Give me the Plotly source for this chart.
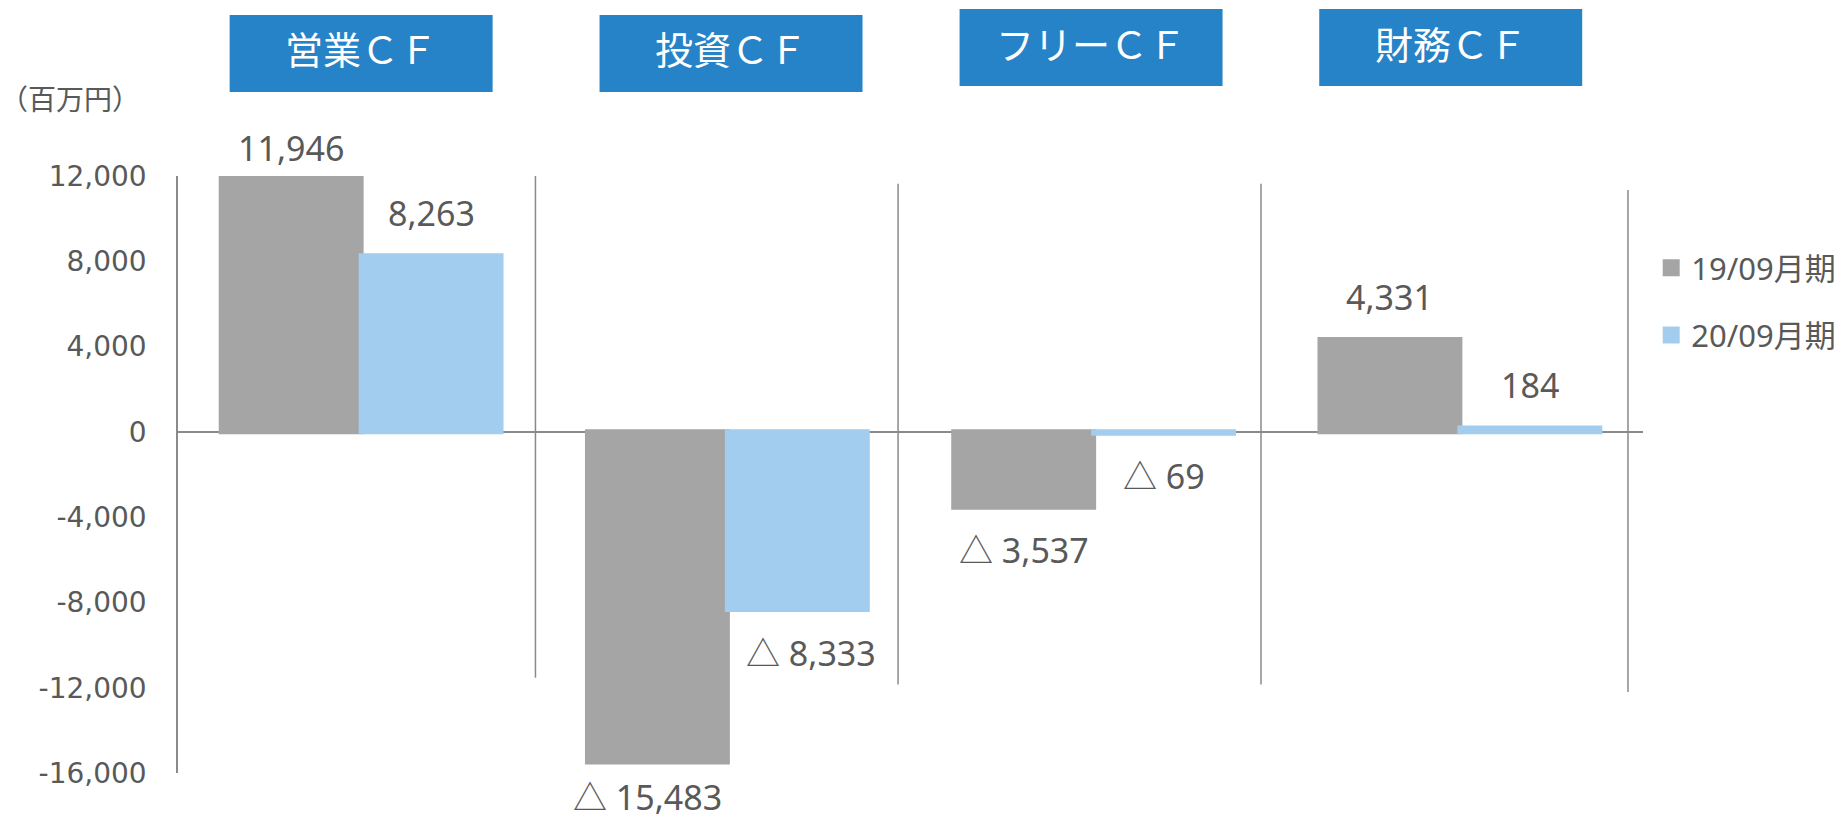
import plotly.graph_objects as go

# ---------------- data ----------------
categories = ["営業ＣＦ", "投資ＣＦ", "フリーＣＦ", "財務ＣＦ"]
series_names = ["19/09月期", "20/09月期"]
values_1909 = [11946, -15483, -3537, 4331]
values_2009 = [8263, -8333, -69, 184]
y_tick_values = [12000, 8000, 4000, 0, -4000, -8000, -12000, -16000]
y_tick_labels = ["12,000", "8,000", "4,000", "0", "-4,000", "-8,000", "-12,000", "-16,000"]
unit_label = "（百万円）"

# ---------------- styles / layout helpers ----------------
series_colors = ["#A5A5A5", "#A3CDEE"]
header_color = "#2783C7"
text_color = "#595959"
line_color = "#8A8A8A"
label_font = "Noto Sans, Noto Sans CJK JP, sans-serif"
cjk_font = "Noto Sans CJK JP, sans-serif"

bargap = 0.236
bar_line_width = 5
label_gap = [[29, 35, 43, 43], [43, 43, 43, 43]]          # px from bar end
label_xshift = [[0, -10, 0, 0], [0, 14, 0, 0]]             # px horizontal nudge
header_x = [0.0, 1.01, 1.993, 2.975]                        # data x of header boxes
header_half_w = 0.359                                       # half box width (data units)
header_y0 = [1.1407, 1.1407, 1.1508, 1.1508]                # paper y bottom of boxes
header_y1 = [1.2697, 1.2697, 1.2797, 1.2797]                # paper y top of boxes
header_text_y = [1.2156, 1.2156, 1.2240, 1.2240]            # paper y of header text
sep_x = [0.476, 1.466, 2.457, 3.459]                        # separator lines
sep_top = [12000, 11640, 11640, 11340]
sep_bottom = [-11530, -11850, -11850, -12200]

xs = list(range(len(categories)))
series_values = [values_1909, values_2009]

fig = go.Figure()
for name, vals, col in zip(series_names, series_values, series_colors):
    fig.add_trace(go.Bar(
        x=xs, y=vals, name=name, legendgroup=name,
        marker=dict(color=col, line=dict(color=col, width=bar_line_width)),
        hoverinfo="skip",
    ))


def fmt(v):
    return f"{v:,}" if v >= 0 else f"△ {abs(v):,}"


annotations = []
half = (1 - bargap) / 2
for t, vals in enumerate(series_values):
    off = (t - 0.5) * half
    for i, v in enumerate(vals):
        annotations.append(dict(
            x=xs[i] + off, y=v, xref="x", yref="y", text=fmt(v),
            showarrow=False, xanchor="center", yanchor="middle",
            yshift=label_gap[t][i] if v >= 0 else -label_gap[t][i],
            xshift=label_xshift[t][i],
            font=dict(family=label_font, size=34, color=text_color),
        ))

shapes = []
for i, cat in enumerate(categories):
    shapes.append(dict(
        type="rect", xref="x", yref="paper",
        x0=header_x[i] - header_half_w, x1=header_x[i] + header_half_w,
        y0=header_y0[i], y1=header_y1[i],
        fillcolor=header_color, line=dict(width=0), layer="above",
    ))
    annotations.append(dict(
        x=header_x[i], y=header_text_y[i], xref="x", yref="paper", text=cat,
        showarrow=False, xanchor="center", yanchor="middle",
        font=dict(family=cjk_font, size=38, color="white"),
    ))

annotations.append(dict(
    x=-0.1226, y=1.1307, xref="paper", yref="paper", text=unit_label,
    showarrow=False, xanchor="left", yanchor="middle",
    font=dict(family=cjk_font, size=28, color=text_color),
))

for sx, st, sb in zip(sep_x, sep_top, sep_bottom):
    shapes.append(dict(type="line", xref="x", yref="y", x0=sx, x1=sx, y0=st, y1=sb,
                       line=dict(color=line_color, width=1.5), layer="above"))

fig.update_layout(
    width=1846, height=819,
    margin=dict(l=178, r=203, t=176, b=46, pad=0, autoexpand=False),
    paper_bgcolor="white", plot_bgcolor="white",
    barmode="group", bargap=bargap, bargroupgap=0,
    showlegend=True,
    legend=dict(
        x=1.0056, y=0.891, xanchor="left", yanchor="top",
        font=dict(family=label_font, size=31, color=text_color),
        tracegroupgap=24, bgcolor="rgba(0,0,0,0)",
    ),
    xaxis=dict(range=[-0.5, 3.5], showticklabels=False, showgrid=False,
               zeroline=False, showline=False, ticks="", automargin=False),
    yaxis=dict(range=[-16000, 12000], tickvals=y_tick_values, ticktext=y_tick_labels,
               showgrid=False, zeroline=True, zerolinecolor=line_color, zerolinewidth=1.5,
               showline=True, linecolor=line_color, linewidth=1.5, ticks="",
               ticklabelstandoff=24, automargin=False,
               tickfont=dict(family="DejaVu Sans, Verdana, sans-serif", size=28, color=text_color)),
    annotations=annotations,
    shapes=shapes,
)

fig.write_html(
    "out.html",
    config={"displayModeBar": False},
    post_script="document.body.style.margin='0';document.body.style.overflow='hidden';",
)
